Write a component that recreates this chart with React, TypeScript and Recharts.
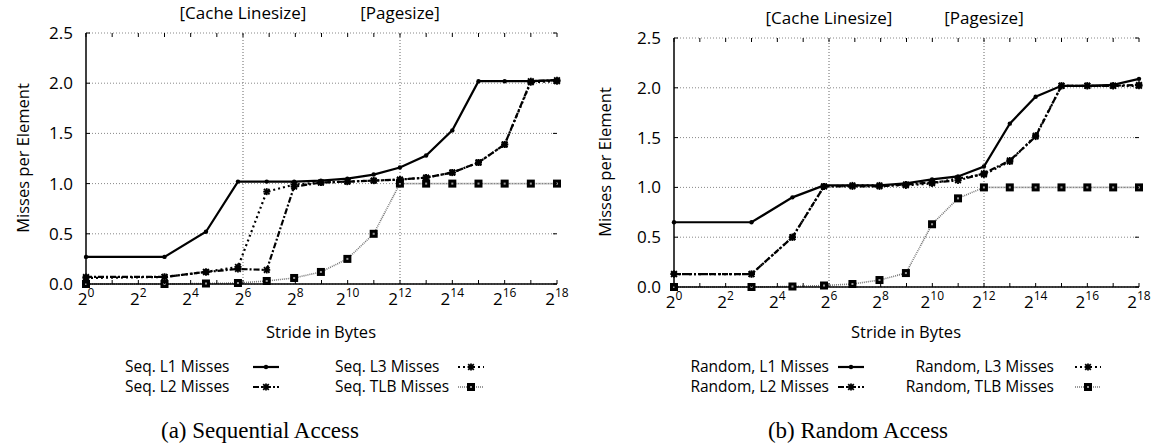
import React from 'react'
import {
  LineChart,
  Line,
  XAxis,
  YAxis,
  CartesianGrid,
  ReferenceLine,
} from 'recharts'

// stride in bytes of each measurement
const strides = [1, 8, 24, 56, 120, 248, 504, 1016, 2040, 4088, 8184, 16376, 32760, 65528, 131064, 262136]

const seqL1 = [0.27, 0.27, 0.52, 1.02, 1.02, 1.02, 1.03, 1.05, 1.09, 1.16, 1.28, 1.53, 2.02, 2.02, 2.02, 2.03]
const seqL2 = [0.07, 0.07, 0.12, 0.15, 0.14, 0.97, 1.01, 1.02, 1.03, 1.04, 1.06, 1.11, 1.21, 1.39, 2.02, 2.03]
const seqL3 = [0.06, 0.07, 0.12, 0.17, 0.92, 0.99, 1.01, 1.02, 1.03, 1.04, 1.06, 1.11, 1.21, 1.39, 2.01, 2.02]
const seqTLB = [0, 0, 0.005, 0.01, 0.03, 0.06, 0.12, 0.25, 0.5, 1.0, 1.0, 1.0, 1.0, 1.0, 1.0, 1.0]

const rndL1 = [0.65, 0.65, 0.9, 1.02, 1.02, 1.02, 1.04, 1.08, 1.11, 1.21, 1.64, 1.91, 2.02, 2.02, 2.03, 2.09]
const rndL2 = [0.13, 0.13, 0.5, 1.01, 1.01, 1.01, 1.03, 1.05, 1.07, 1.14, 1.27, 1.51, 2.02, 2.02, 2.02, 2.03]
const rndL3 = [0.13, 0.13, 0.5, 1.01, 1.02, 1.02, 1.02, 1.04, 1.09, 1.13, 1.26, 1.52, 2.02, 2.02, 2.02, 2.02]
const rndTLB = [0, 0, 0.005, 0.015, 0.03, 0.07, 0.14, 0.63, 0.89, 1.0, 1.0, 1.0, 1.0, 1.0, 1.0, 1.0]

const xTicks = [1, 2, 4, 8, 16, 32, 64, 128, 256, 512, 1024, 2048, 4096, 8192, 16384, 32768, 65536, 131072, 262144]
const yTicks = [0, 0.5, 1.0, 1.5, 2.0, 2.5]

const seqNames = ['Seq. L1 Misses', 'Seq. L2 Misses', 'Seq. L3 Misses', 'Seq. TLB Misses']
const rndNames = ['Random, L1 Misses', 'Random, L2 Misses', 'Random, L3 Misses', 'Random, TLB Misses']

const FONT = '"Open Sans", sans-serif'

const lineStyles = [
  { stroke: '#000', width: 2.2, dash: undefined, marker: 'dot' },
  { stroke: '#000', width: 2.2, dash: '6 2 2 2', marker: 'star' },
  { stroke: '#000', width: 2.2, dash: '2 3', marker: 'star' },
  { stroke: '#777', width: 1.6, dash: '1 1', marker: 'square' },
]

function Marker({ kind, cx, cy }: { kind: string; cx: number; cy: number }) {
  if (kind === 'dot') return <circle cx={cx} cy={cy} r={2.2} fill="#000" />
  if (kind === 'star') {
    const s = 3.5
    return (
      <g stroke="#000" strokeWidth={1.8}>
        <line x1={cx - s} x2={cx + s} y1={cy} y2={cy} />
        <line x1={cx} x2={cx} y1={cy - s} y2={cy + s} />
        <line x1={cx - s * 0.8} x2={cx + s * 0.8} y1={cy - s * 0.8} y2={cy + s * 0.8} />
        <line x1={cx - s * 0.8} x2={cx + s * 0.8} y1={cy + s * 0.8} y2={cy - s * 0.8} />
      </g>
    )
  }
  return (
    <g>
      <rect x={cx - 4} y={cy - 4} width={8} height={8} fill="#000" />
      <rect x={cx - 1} y={cy - 1} width={2} height={2} fill="#999" />
    </g>
  )
}

interface PanelProps {
  series: number[][]
  left: number
  width: number
  plot: { l: number; r: number; t: number; b: number }
}

function Panel({ series, left, width, plot }: PanelProps) {
  const data = strides.map((s, i) => ({
    stride: s,
    l1: series[0][i],
    l2: series[1][i],
    l3: series[2][i],
    tlb: series[3][i],
  }))
  const keys = ['l1', 'l2', 'l3', 'tlb']

  const XTick = (p: any) => {
    const k = Math.round(Math.log2(p.payload.value))
    const x = p.x
    return (
      <g>
        <line x1={x} x2={x} y1={plot.b} y2={plot.b - 4} stroke="#000" />
        <line x1={x} x2={x} y1={plot.t} y2={plot.t + 4} stroke="#000" />
        {k % 2 === 0 && (
          <text x={x} y={plot.b + 21} textAnchor="middle" fontSize={17} fontFamily={FONT} fill="#000">
            2<tspan dy={-8} fontSize={12}>{k}</tspan>
          </text>
        )}
      </g>
    )
  }

  const YTick = (p: any) => {
    const y = p.y
    return (
      <g>
        <line x1={plot.l} x2={plot.l + 4} y1={y} y2={y} stroke="#000" />
        <line x1={plot.r - 4} x2={plot.r} y1={y} y2={y} stroke="#000" />
        <text x={plot.l - 13} y={y + 6} textAnchor="end" fontSize={17} fontFamily={FONT} fill="#000">
          {p.payload.value.toFixed(1)}
        </text>
      </g>
    )
  }

  const refLabel = (value: string) => ({
    value,
    position: 'top' as const,
    offset: 14,
    fontSize: 17,
    fontFamily: FONT,
    fill: '#000',
  })

  return (
    <div style={{ position: 'absolute', left, top: 0 }}>
      <LineChart
        width={width}
        height={330}
        data={data}
        margin={{ top: plot.t, right: width - plot.r, left: plot.l - 40, bottom: 330 - plot.b - 30 }}
      >
        <CartesianGrid vertical={false} stroke="#888" strokeDasharray="1 2" />
        <XAxis
          dataKey="stride"
          type="number"
          scale="log"
          domain={[1, 262144]}
          ticks={xTicks}
          interval={0}
          tick={<XTick />}
          tickLine={false}
          axisLine={{ stroke: '#000', strokeWidth: 1.5 }}
          height={30}
        />
        <XAxis
          xAxisId="top"
          dataKey="stride"
          type="number"
          scale="log"
          domain={[1, 262144]}
          orientation="top"
          tick={false}
          tickLine={false}
          axisLine={{ stroke: '#000', strokeWidth: 1.5 }}
          height={0}
        />
        <YAxis
          domain={[0, 2.5]}
          ticks={yTicks}
          interval={0}
          tick={<YTick />}
          tickLine={false}
          axisLine={{ stroke: '#000', strokeWidth: 1.5 }}
          width={40}
        />
        <YAxis
          yAxisId="right"
          orientation="right"
          domain={[0, 2.5]}
          tick={false}
          tickLine={false}
          axisLine={{ stroke: '#000', strokeWidth: 1.5 }}
          width={0}
        />
        <ReferenceLine x={64} stroke="#666" strokeDasharray="1 2" label={refLabel('[Cache Linesize]')} />
        <ReferenceLine x={4096} stroke="#666" strokeDasharray="1 2" label={refLabel('[Pagesize]')} />
        {[3, 2, 1, 0].map((i) => {
          const st = lineStyles[i]
          return (
            <Line
              key={keys[i]}
              dataKey={keys[i]}
              type="linear"
              stroke={st.stroke}
              strokeWidth={st.width}
              strokeDasharray={st.dash}
              dot={(d: any) => <Marker key={`${keys[i]}-${d.index}`} kind={st.marker} cx={d.cx} cy={d.cy} />}
              activeDot={false}
              isAnimationActive={false}
            />
          )
        })}
      </LineChart>
    </div>
  )
}

function Sample({ i, x, y, w }: { i: number; x: number; y: number; w: number }) {
  const st = lineStyles[i]
  return (
    <g>
      <line x1={x} x2={x + w} y1={y} y2={y} stroke={st.stroke} strokeWidth={st.width} strokeDasharray={st.dash} />
      <Marker kind={st.marker} cx={x + w / 2} cy={y} />
    </g>
  )
}

function Overlay() {
  const t = { fontFamily: FONT, fontSize: 15.5, fill: '#000' }
  const ax = { fontFamily: FONT, fontSize: 16.5, fill: '#000' }
  const cap = { fontFamily: '"Liberation Serif", serif', fontSize: 23, fill: '#000' }
  return (
    <svg width={1161} height={447} style={{ position: 'absolute', left: 0, top: 0, pointerEvents: 'none' }}>
      {/* y axis titles */}
      <text {...ax} transform="translate(29,158) rotate(-90)" textAnchor="middle">Misses per Element</text>
      <text {...ax} transform="translate(611,162) rotate(-90)" textAnchor="middle">Misses per Element</text>
      {/* x axis titles */}
      <text {...ax} x={321} y={338} textAnchor="middle">Stride in Bytes</text>
      <text {...ax} x={906} y={338} textAnchor="middle">Stride in Bytes</text>

      {/* legend (a) */}
      <text {...t} x={125} y={372}>{seqNames[0]}</text>
      <text {...t} x={125} y={392}>{seqNames[1]}</text>
      <text {...t} x={335} y={372}>{seqNames[2]}</text>
      <text {...t} x={335} y={392}>{seqNames[3]}</text>
      <Sample i={0} x={253} y={367} w={26} />
      <Sample i={1} x={253} y={387} w={26} />
      <Sample i={2} x={458} y={367} w={26} />
      <Sample i={3} x={458} y={387} w={26} />

      {/* legend (b) */}
      <text {...t} x={829} y={372} textAnchor="end">{rndNames[0]}</text>
      <text {...t} x={829} y={392} textAnchor="end">{rndNames[1]}</text>
      <text {...t} x={1054} y={372} textAnchor="end">{rndNames[2]}</text>
      <text {...t} x={1054} y={392} textAnchor="end">{rndNames[3]}</text>
      <Sample i={0} x={838} y={367} w={26} />
      <Sample i={1} x={838} y={387} w={26} />
      <Sample i={2} x={1075} y={367} w={26} />
      <Sample i={3} x={1075} y={387} w={26} />

      <text {...cap} x={260} y={438} textAnchor="middle">(a) Sequential Access</text>
      <text {...cap} x={858} y={438} textAnchor="middle">(b) Random Access</text>
    </svg>
  )
}

export default function App() {
  return (
    <div style={{ position: 'absolute', left: 0, top: 0, width: 1161, height: 447, background: '#fff' }}>
      <Panel series={[seqL1, seqL2, seqL3, seqTLB]} left={0} width={580} plot={{ l: 86, r: 557, t: 33, b: 284 }} />
      <Panel series={[rndL1, rndL2, rndL3, rndTLB]} left={580} width={581} plot={{ l: 94, r: 559, t: 38, b: 287 }} />
      <Overlay />
    </div>
  )
}
